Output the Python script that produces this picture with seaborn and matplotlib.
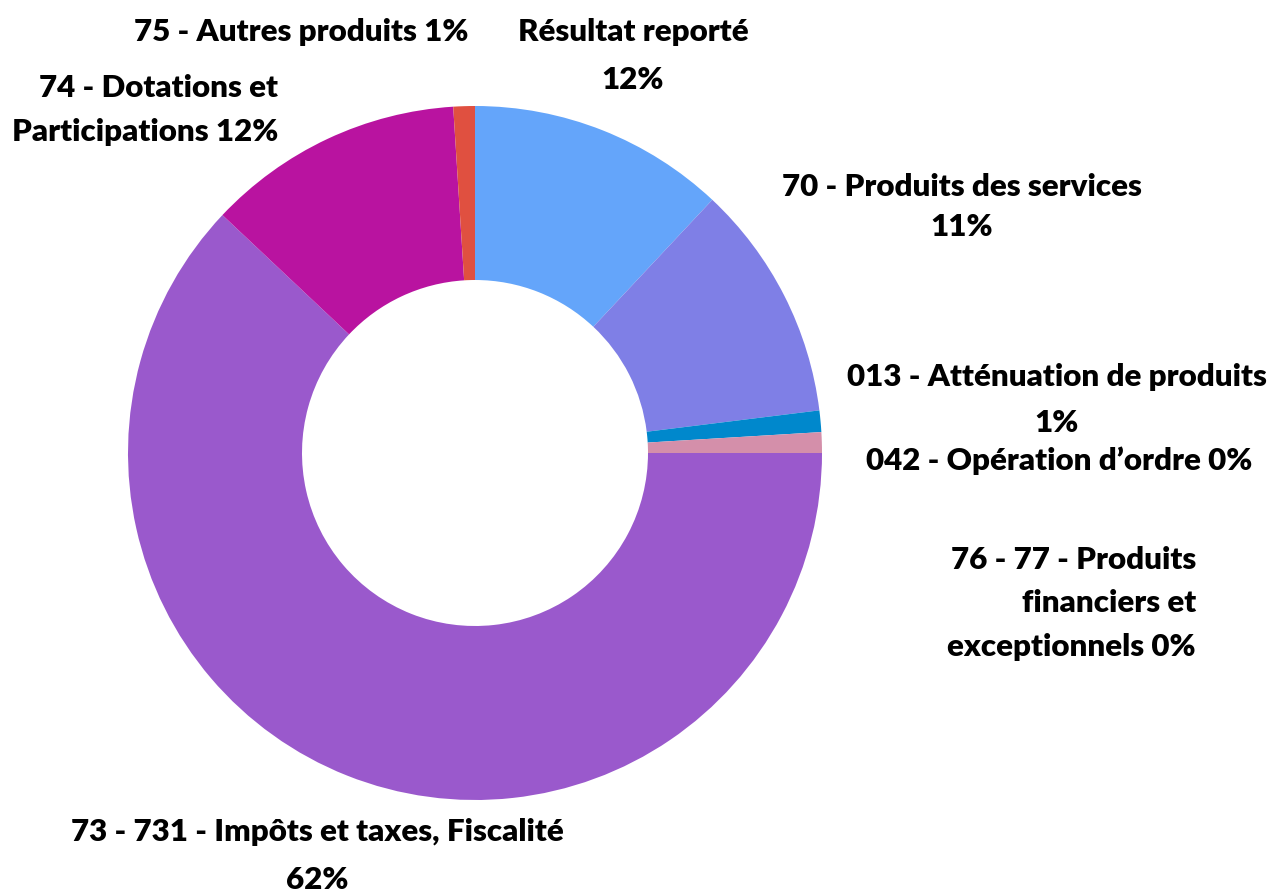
import matplotlib.pyplot as plt
import seaborn as sns

# Budget share by chapter (clockwise from 12 o'clock)
categories = ["Résultat reporté", "70 - Produits des services", "013 - Atténuation de produits",
              "042 - Opération d’ordre", "76 - 77 - Produits financiers et exceptionnels",
              "73 - 731 - Impôts et taxes, Fiscalité", "74 - Dotations et Participations",
              "75 - Autres produits"]
shares = [11.98, 11.05, 1.0, 0.96, 0.0, 62.0, 11.97, 1.0]
colors = ["#64A5FA", "#7F7FE6", "#0088CC", "#D48FAA", "#C8C8C8", "#9A59CC", "#B913A0", "#E05040"]

sns.set_theme(style="white")
plt.rcParams['font.family'] = ['Lato', 'DejaVu Sans']

W, H = 1277, 894
fig = plt.figure(figsize=(W / 100, H / 100), dpi=100)
ax = fig.add_axes([0, 0, 1, 1])

ax.pie(shares, colors=sns.color_palette(colors), startangle=90, counterclock=False,
       center=(475, H - 453), radius=347,
       wedgeprops=dict(width=174, edgecolor='none', linewidth=0))

# pie() resets the limits, so set the pixel-like frame afterwards
ax.set_xlim(0, W)
ax.set_ylim(0, H)
ax.set_aspect('equal')
ax.axis('off')

# label text: lines, x, y of first line (from top), line spacing, alignment
labels = [
    (["75 - Autres produits 1%"], 301, 32, 0, 'center'),
    (["Résultat reporté", "12%"], 633, 32, 48, 'center'),
    (["74 - Dotations et", "Participations 12%"], 278, 88, 44, 'right'),
    (["70 - Produits des services", "11%"], 962, 187, 40, 'center'),
    (["013 - Atténuation de produits", "1%"], 1057, 377, 46, 'center'),
    (["042 - Opération d’ordre 0%"], 1059, 461, 0, 'center'),
    (["76 - 77 - Produits", "financiers et", "exceptionnels 0%"], 1196, 560, 43.5, 'right'),
    (["73 - 731 - Impôts et taxes, Fiscalité", "62%"], 317, 832, 48, 'center'),
]
for lines, x, y0, dy, ha in labels:
    for i, line in enumerate(lines):
        ax.text(x, H - (y0 + i * dy), line, ha=ha, va='center',
                fontsize=22.5, fontweight='heavy', color='black')

plt.savefig('out.png', dpi=100, facecolor='white')
